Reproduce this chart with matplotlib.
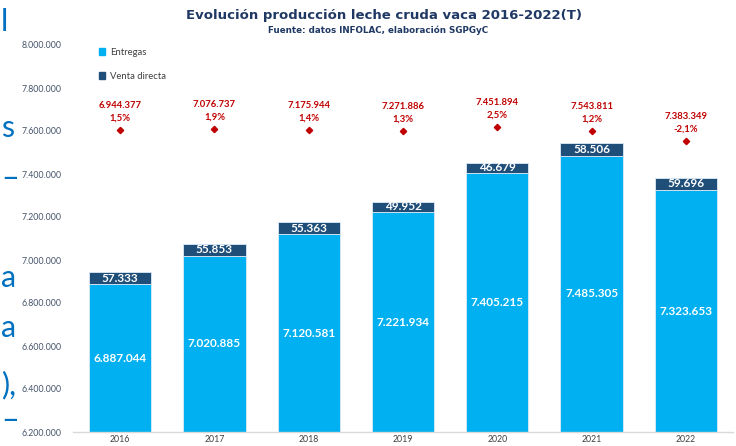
import numpy as np
import matplotlib
matplotlib.use("Agg")
import matplotlib.pyplot as plt
import matplotlib.patches as mpatches

plt.rcParams["font.family"] = ["Lato", "DejaVu Sans"]

YEARS = ["2016", "2017", "2018", "2019", "2020", "2021", "2022"]
ENTREGAS = [6887044, 7020885, 7120581, 7221934, 7405215, 7485305, 7323653]
VENTA_DIRECTA = [57333, 55853, 55363, 49952, 46679, 58506, 59696]
TOTALES = [6944377, 7076737, 7175944, 7271886, 7451894, 7543811, 7383349]
VARIACION = [1.5, 1.9, 1.4, 1.3, 2.5, 1.2, -2.1]
Y_TICKS = [6200000, 6400000, 6600000, 6800000, 7000000, 7200000, 7400000,
           7600000, 7800000, 8000000]

COLOR_ENTREGAS = "#00B0F0"
COLOR_VENTA = "#1F4E79"
COLOR_RED = "#C00000"
COLOR_TITLE = "#1F3864"
COLOR_TICK = "#44546A"


def fmt_miles(v):
    return f"{v:,}".replace(",", ".")


def fmt_pct(v):
    return f"{v:.1f}%".replace(".", ",")


fig = plt.figure(figsize=(7.36, 4.46), dpi=100)
W, H = 736, 446
ax = fig.add_axes([73 / W, 1 - 432 / H, (733 - 73) / W, (432 - 45) / H])

x = np.arange(len(YEARS))
bw = 0.66
ax.bar(x, ENTREGAS, bw, color=COLOR_ENTREGAS, edgecolor="#DDEBF7", lw=0.6, zorder=2)
ax.bar(x, VENTA_DIRECTA, bw, bottom=ENTREGAS, color=COLOR_VENTA,
       edgecolor="#DDEBF7", lw=0.6, zorder=2)

ymin, ymax = 6200000, 8000000
ax.set_ylim(ymin, ymax)
ax.set_xlim(-0.5, 6.5)
ax.set_yticks(Y_TICKS)
ax.set_yticklabels([fmt_miles(t) for t in Y_TICKS], fontsize=6.3, color=COLOR_TICK)
ax.set_xticks(x)
ax.set_xticklabels(YEARS, fontsize=6.3, color="#404040")
ax.tick_params(length=0)
ax.tick_params(axis="x", pad=2.5)
ax.tick_params(axis="y", pad=8)
for s in ["top", "right", "left"]:
    ax.spines[s].set_visible(False)
ax.spines["bottom"].set_color("#D9D9D9")
ax.spines["bottom"].set_linewidth(1)

for xi, e, v in zip(x, ENTREGAS, VENTA_DIRECTA):
    ax.text(xi, (ymin + e) / 2, fmt_miles(e), ha="center", va="center",
            color="white", fontsize=8.5, fontweight="bold", zorder=3)
    ax.text(xi, e + v / 2, fmt_miles(v), ha="center", va="center",
            color="white", fontsize=8.5, fontweight="bold", zorder=3)

# secondary axis for the growth markers
ax2 = ax.twinx()
ax2.set_ylim(-98, 29.5)
ax2.set_axis_off()
ax2.plot(x, VARIACION, ls="none", marker="D", ms=3.2, color=COLOR_RED)
for xi, t, p in zip(x, TOTALES, VARIACION):
    ax2.annotate(fmt_pct(p), (xi, p), xytext=(0, 8.5), textcoords="offset points",
                 ha="center", va="center", color=COLOR_RED, fontsize=6.8,
                 fontweight="bold")
    ax2.annotate(fmt_miles(t), (xi, p), xytext=(0, 17.5), textcoords="offset points",
                 ha="center", va="center", color=COLOR_RED, fontsize=6.8,
                 fontweight="bold")

handles = [mpatches.Patch(color=COLOR_ENTREGAS), mpatches.Patch(color=COLOR_VENTA)]
ax.legend(handles, ["Entregas", "Venta directa"], loc="upper left",
          bbox_to_anchor=(0.026, 1.015), frameon=False, fontsize=6.8,
          handlelength=0.7, handleheight=0.7, handletextpad=0.5,
          labelspacing=1.6, labelcolor="#404040")

fig.text(384 / W, 1 - 15 / H, "Evolución producción leche cruda vaca 2016-2022(T)",
         ha="center", va="center", fontsize=9.5, fontweight="bold",
         color=COLOR_TITLE, family="DejaVu Sans")
fig.text(378 / W, 1 - 30 / H, "Fuente: datos INFOLAC, elaboración SGPGyC",
         ha="center", va="center", fontsize=6.3, fontweight="bold",
         color=COLOR_TITLE, family="DejaVu Sans")

# fragments of slide text at the left edge
for ch, yy in [("l", 22), ("s", 128), ("–", 178), ("a", 278), ("a", 328),
               ("),", 385), ("–", 420)]:
    fig.text(1 / W, 1 - yy / H, ch, ha="left", va="center", fontsize=22,
             color="#0070C0")

fig.savefig("out.png", dpi=100)
